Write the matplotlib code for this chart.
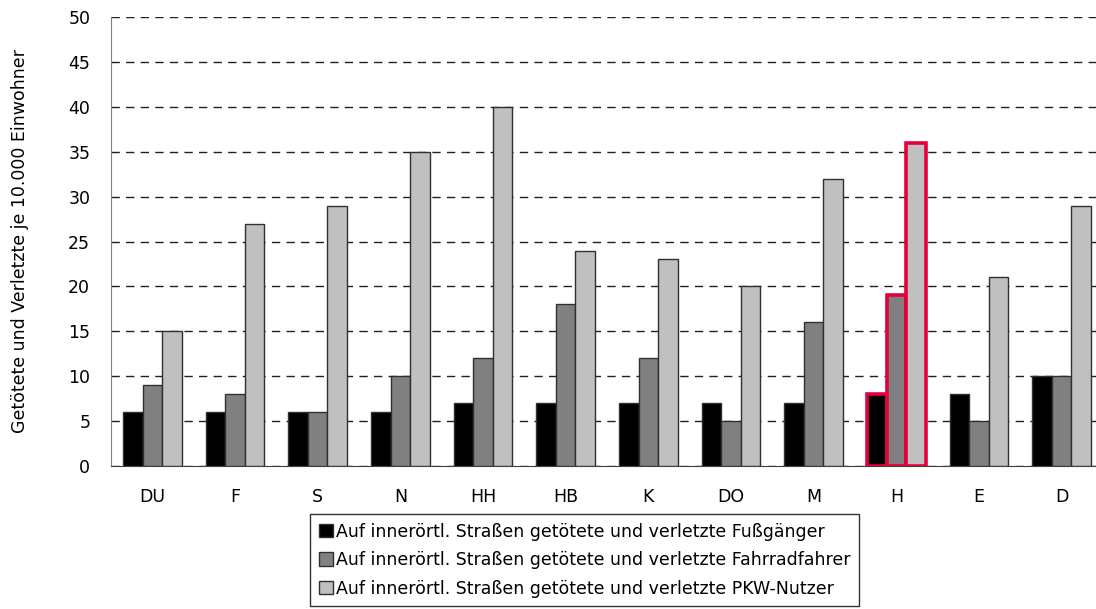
import numpy as np
import matplotlib
matplotlib.use("Agg")
import matplotlib.pyplot as plt
from matplotlib.patches import Patch

plt.rcParams['font.family'] = ['DejaVu Sans']

# Cities
cities = ['DU', 'F', 'S', 'N', 'HH', 'HB', 'K', 'DO', 'M', 'H', 'E', 'D']
# Killed and injured per 10,000 inhabitants
fussgaenger = [6, 6, 6, 6, 7, 7, 7, 7, 7, 8, 8, 10]
radfahrer = [9, 8, 6, 10, 12, 18, 12, 5, 16, 19, 5, 10]
pkw = [15, 27, 29, 35, 40, 24, 23, 20, 32, 36, 21, 29]

labels = ['Auf innerörtl. Straßen getötete und verletzte Fußgänger',
          'Auf innerörtl. Straßen getötete und verletzte Fahrradfahrer',
          'Auf innerörtl. Straßen getötete und verletzte PKW-Nutzer']
colors = ['#000000', '#808080', '#c0c0c0']
highlight = 'H'
fs = 12.5

fig = plt.figure(figsize=(10.96, 6.09), dpi=100)
ax = fig.add_axes([0.1013, 0.2348, 0.8987, 0.7372])

x = np.arange(len(cities))
w = 0.236
for i, (vals, col) in enumerate(zip([fussgaenger, radfahrer, pkw], colors)):
    bars = ax.bar(x + (i - 1) * w, vals, w, color=col, edgecolor='#303030',
                  linewidth=1, zorder=3)
    idx = cities.index(highlight)
    bars[idx].set_edgecolor('#e4003b')
    bars[idx].set_linewidth(2.6)
    bars[idx].set_zorder(4)

ax.set_ylim(0, 50)
ax.set_yticks(range(0, 51, 5))
ax.set_xlim(-0.5, 11.415)
ax.set_xticks(x)
ax.set_xticklabels(cities)
ax.yaxis.grid(True, linestyle=(0, (6, 4.5)), color='#202020', linewidth=1, zorder=0)
ax.tick_params(axis='both', length=0, labelsize=fs)
ax.tick_params(axis='x', pad=16)
ax.tick_params(axis='y', pad=15)
ax.spines['top'].set_visible(False)
ax.spines['right'].set_visible(False)
ax.spines['left'].set_color('#808080')
ax.spines['bottom'].set_color('#404040')
ax.set_ylabel('Getötete und Verletzte je 10.000 Einwohner', fontsize=fs, labelpad=28)

handles = [Patch(facecolor=c, edgecolor='#303030', linewidth=1) for c in colors]
leg = fig.legend(handles, labels, loc='upper left', bbox_to_anchor=(310 / 1096, 1 - 514 / 609),
                 fontsize=fs, frameon=True, fancybox=False, edgecolor='black',
                 handlelength=0.8, handleheight=0.8, handletextpad=0.2,
                 labelspacing=0.6, borderpad=0.5, borderaxespad=0)
leg.get_frame().set_linewidth(1)

fig.savefig('out.png', dpi=100)
